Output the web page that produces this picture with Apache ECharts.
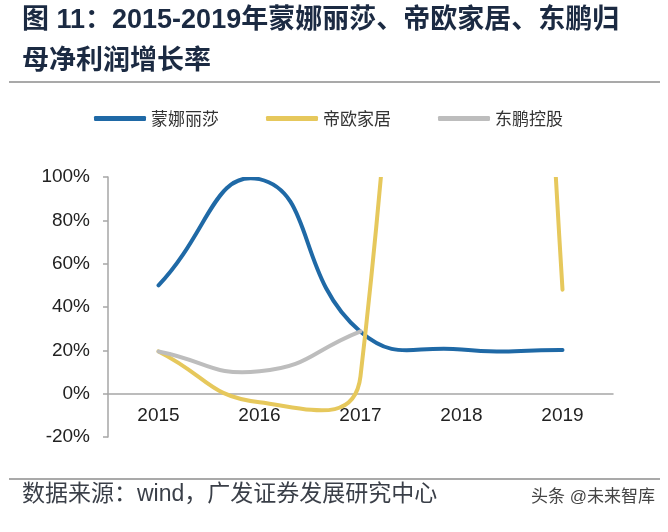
<!DOCTYPE html>
<html>
<head>
<meta charset="utf-8">
<script src="https://cdn.jsdelivr.net/npm/echarts@6/dist/echarts.min.js"></script>
<style>
html,body{margin:0;padding:0;background:#fff;}
#chart{width:668px;height:532px;}
</style>
</head>
<body>
<div id="chart"></div>
<script>
var categories = ['2015', '2016', '2017', '2018', '2019'];
var seriesNames = ['蒙娜丽莎', '帝欧家居', '东鹏控股'];
var monalisa = [50, 99, 28.6, 20.4, 20.2];
var dioo = [19.5, -4, 8, 800, 48];
var dongpeng = [19.5, 10.3, 28.8];
var yTicks = { min: -20, max: 100, interval: 20 };
var titleText = '图 11：2015-2019年蒙娜丽莎、帝欧家居、东鹏归\n母净利润增长率';
var sourceText = '数据来源：wind，广发证券发展研究中心';
var watermarkText = '头条 @未来智库';

var colors = ['#1F69A6', '#E6C85C', '#BDBDBD'];
var latinCjk = '"Liberation Sans", Arial, "Noto Sans CJK SC", sans-serif';
var gridBox = { left: 108, right: 55, top: 177, bottom: 95 };
var gridHeight = 532 - gridBox.top - gridBox.bottom;
var zeroOffset = -gridHeight * (0 - yTicks.min) / (yTicks.max - yTicks.min);

// Smooth path through the points projected by the axes (Excel-like cardinal smoothing)
function smoothPathData(pts, s) {
  var n = pts.length;
  var d = 'M' + pts[0][0] + ' ' + pts[0][1];
  if (n < 2) return d;
  var cp0x = pts[0][0] + (pts[1][0] - pts[0][0]) * s;
  var cp0y = pts[0][1] + (pts[1][1] - pts[0][1]) * s;
  for (var k = 1; k < n; k++) {
    var x = pts[k][0], y = pts[k][1];
    var px = pts[k - 1][0], py = pts[k - 1][1];
    var cp1x, cp1y, ncp0x = x, ncp0y = y;
    if (k === n - 1) {
      cp1x = x - (x - px) * s;
      cp1y = y - (y - py) * s;
    } else {
      var nx = pts[k + 1][0], ny = pts[k + 1][1];
      var vx = nx - px, vy = ny - py;
      var lp = Math.sqrt((x - px) * (x - px) + (y - py) * (y - py));
      var ln = Math.sqrt((nx - x) * (nx - x) + (ny - y) * (ny - y));
      var r = ln / (lp + ln);
      cp1x = x - vx * s * (1 - r);
      cp1y = y - vy * s * (1 - r);
      ncp0x = x + vx * s * r;
      ncp0y = y + vy * s * r;
    }
    d += ' C' + cp0x + ' ' + cp0y + ' ' + cp1x + ' ' + cp1y + ' ' + x + ' ' + y;
    cp0x = ncp0x; cp0y = ncp0y;
  }
  return d;
}

function curveSeries(name, values, color) {
  return {
    name: name,
    type: 'custom',
    clip: true,
    coordinateSystem: 'cartesian2d',
    encode: { x: 0, y: 1 },
    itemStyle: { color: color },
    data: values.map(function (v, i) { return [i, v]; }),
    renderItem: function (params, api) {
      if (params.dataIndex !== 0) return null;
      var pts = values.map(function (v, i) { return api.coord([i, v]); });
      return {
        type: 'path',
        shape: { pathData: smoothPathData(pts, 0.5) },
        style: { fill: 'none', stroke: color, lineWidth: 4, lineCap: 'round', lineJoin: 'round' }
      };
    }
  };
}

var chart = echarts.init(document.getElementById('chart'), null, { renderer: 'canvas' });

chart.setOption({
  animation: false,
  backgroundColor: '#ffffff',
  title: [
    {
      text: titleText,
      left: 22, top: 0, padding: 0,
      textStyle: { fontFamily: latinCjk, fontSize: 27, fontWeight: 'bold', color: '#1B2A42', lineHeight: 41 }
    },
    {
      text: sourceText,
      left: 22, top: 483, padding: 0,
      textStyle: { fontFamily: latinCjk, fontSize: 23, fontWeight: 'normal', color: '#3A3F48', lineHeight: 23 }
    },
    {
      text: watermarkText,
      right: 13, top: 488, padding: 0,
      textStyle: { fontFamily: latinCjk, fontSize: 17, fontWeight: 'normal', color: '#444444', lineHeight: 18 }
    }
  ],
  graphic: [
    { type: 'line', shape: { x1: 9, y1: 82, x2: 660, y2: 82 }, style: { stroke: '#555555', lineWidth: 1.2 } },
    { type: 'line', shape: { x1: 9, y1: 479, x2: 660, y2: 479 }, style: { stroke: '#555555', lineWidth: 1.2 } }
  ],
  legend: {
    data: seriesNames,
    left: 89, top: 105,
    icon: 'roundRect',
    itemWidth: 52, itemHeight: 5,
    itemGap: 47,
    textStyle: { fontFamily: '"Noto Sans CJK SC", sans-serif', fontSize: 17, color: '#333333' }
  },
  grid: { left: gridBox.left, right: gridBox.right, top: gridBox.top, bottom: gridBox.bottom, containLabel: false },
  xAxis: {
    type: 'category',
    data: categories,
    boundaryGap: true,
    offset: zeroOffset,
    axisLine: { onZero: false, lineStyle: { color: '#A6A6A6', width: 1.5 } },
    axisTick: { show: false },
    axisLabel: { fontFamily: latinCjk, fontSize: 19, color: '#222222', margin: 13 },
    splitLine: { show: false }
  },
  yAxis: {
    type: 'value',
    min: yTicks.min, max: yTicks.max, interval: yTicks.interval,
    axisLine: { show: true, lineStyle: { color: '#A6A6A6', width: 1.5 } },
    axisTick: { show: true, length: 5, lineStyle: { color: '#A6A6A6', width: 1.5 } },
    axisLabel: { fontFamily: latinCjk, fontSize: 19, color: '#222222', margin: 18, formatter: '{value}%' },
    splitLine: { show: false }
  },
  series: [
    curveSeries(seriesNames[0], monalisa, colors[0]),
    curveSeries(seriesNames[1], dioo, colors[1]),
    curveSeries(seriesNames[2], dongpeng, colors[2])
  ]
});
</script>
</body>
</html>
